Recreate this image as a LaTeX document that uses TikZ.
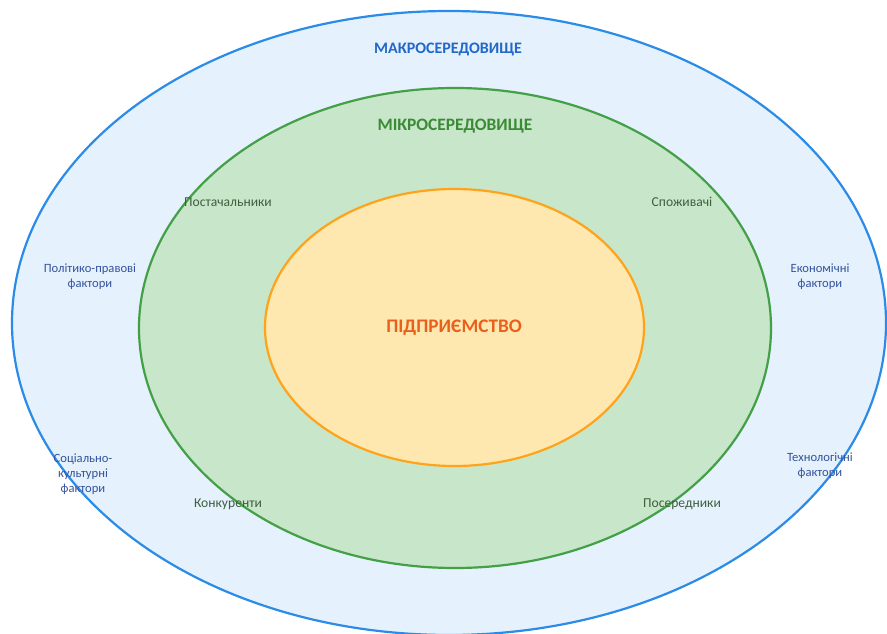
\documentclass[tikz,border=0pt]{standalone}
\usepackage{fontspec}
\setmainfont{Carlito}
\usetikzlibrary{shapes.geometric}

\definecolor{macroFill}{HTML}{E5F1FC}
\definecolor{macroLine}{HTML}{2A8BE8}
\definecolor{macroText}{HTML}{2268C8}
\definecolor{macroLabel}{HTML}{34539E}
\definecolor{microFill}{HTML}{C8E6C9}
\definecolor{microLine}{HTML}{43A047}
\definecolor{microText}{HTML}{3B8A36}
\definecolor{microLabel}{HTML}{3F5F3F}
\definecolor{firmFill}{HTML}{FFE8B0}
\definecolor{firmLine}{HTML}{FFA31A}
\definecolor{firmText}{HTML}{E8601C}

\tikzset{
  ring/.style={ellipse, inner sep=0pt, line width=2.2pt},
  title/.style={font=\bfseries},
  macrolabel/.style={font=\fontsize{12.6}{15}\selectfont, text=macroLabel, align=center},
  microlabel/.style={font=\fontsize{13.6}{15}\selectfont, text=microLabel, align=center},
}

\begin{document}
\begin{tikzpicture}[x=1pt, y=-1pt]
  \useasboundingbox (0,0) rectangle (887,634);
  \clip (0,0) rectangle (887,634);

  % three nested environments
  \node[ring, draw=macroLine, fill=macroFill, minimum width=874, minimum height=624] (macro) at (449,323) {};
  \node[ring, draw=microLine, fill=microFill, minimum width=632, minimum height=480] (micro) at (455,328) {};
  \node[ring, draw=firmLine, fill=firmFill, minimum width=379, minimum height=277] (firm) at (454.5,327.5) {};

  % titles
  \node[title, text=macroText, font=\fontsize{16}{19}\selectfont\bfseries] (macrotitle) at (448,49) {МАКРОСЕРЕДОВИЩЕ};
  \node[title, text=microText, font=\fontsize{17.4}{20}\selectfont\bfseries] (microtitle) at (455,126) {МІКРОСЕРЕДОВИЩЕ};
  \node[title, text=firmText, font=\fontsize{19.2}{22}\selectfont\bfseries] (firmtitle) at (454,328) {ПІДПРИЄМСТВО};

  % microenvironment actors
  \node[microlabel] (suppliers) at (228,202) {Постачальники};
  \node[microlabel] (customers) at (682,202) {Споживачі};
  \node[microlabel] (competitors) at (228,504) {Конкуренти};
  \node[microlabel] (intermediaries) at (682,504) {Посередники};

  % macroenvironment factors
  \node[macrolabel] (political) at (90,277) {Політико-правові\\фактори};
  \node[macrolabel] (economic) at (820,277) {Економічні\\фактори};
  \node[macrolabel] (social) at (83,474) {Соціально-\\культурні\\фактори};
  \node[macrolabel] (technological) at (820,466) {Технологічні\\фактори};
\end{tikzpicture}
\end{document}
